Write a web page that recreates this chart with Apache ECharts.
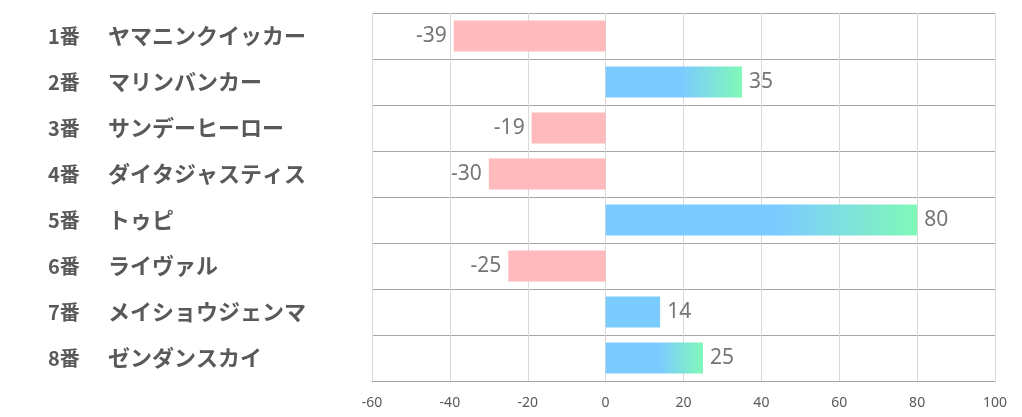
<!DOCTYPE html>
<html>
<head>
<meta charset="utf-8">
<script src="https://cdn.jsdelivr.net/npm/echarts@6/dist/echarts.min.js"></script>
<style>html,body{margin:0;padding:0;background:#fff;}#c{width:1022px;height:417px;}</style>
</head>
<body>
<div id="c"></div>
<script>
const numbers = ['1番','2番','3番','4番','5番','6番','7番','8番'];
const names = ['ヤマニンクイッカー','マリンバンカー','サンデーヒーロー','ダイタジャスティス','トゥピ','ライヴァル','メイショウジェンマ','ゼンダンスカイ'];
const values = [-39, 35, -19, -30, 80, -25, 14, 25];
const xTicks = [-60, -40, -20, 0, 20, 40, 60, 80, 100];

const BLUE = '#7ccbff', GREEN = '#80f9b8', PINK = '#ffbabd';
const categories = numbers.map((n, i) => n + '|' + names[i]);

function barColor(v) {
  if (v < 0) return PINK;
  if (v < 20) return BLUE;
  return new echarts.graphic.LinearGradient(0, 0, 1, 0, [
    {offset: 0, color: BLUE}, {offset: 0.56, color: BLUE}, {offset: 1, color: GREEN}
  ]);
}

const chart = echarts.init(document.getElementById('c'), null, {renderer: 'canvas'});
chart.setOption({
  animation: false,
  grid: {left: 372, right: 27, top: 13, bottom: 36, containLabel: false},
  xAxis: {
    type: 'value', min: xTicks[0], max: xTicks[xTicks.length - 1], interval: 20,
    axisLine: {show: true, lineStyle: {color: '#a6a6a6', width: 1}},
    axisTick: {show: false},
    splitLine: {show: true, lineStyle: {color: '#d9d9d9', width: 1}},
    axisLabel: {color: '#595959', fontSize: 14, fontFamily: 'Noto Sans', margin: 15}
  },
  yAxis: {
    type: 'category', data: categories, inverse: true,
    axisLine: {show: false}, axisTick: {show: false},
    splitLine: {show: true, lineStyle: {color: '#a6a6a6', width: 1}},
    axisLabel: {
      align: 'left', margin: 324,
      formatter: function (v) { const p = v.split('|'); return '{n|' + p[0] + '}{t|' + p[1] + '}'; },
      rich: {
        n: {color: '#595959', fontSize: 20, fontWeight: 'bold', fontFamily: 'Noto Sans CJK JP', width: 60},
        t: {color: '#595959', fontSize: 22, fontWeight: 'bold', fontFamily: 'Noto Sans CJK JP'}
      }
    }
  },
  series: [{
    type: 'bar', barWidth: 31,
    data: values.map(v => ({
      value: v,
      itemStyle: {color: barColor(v)},
      label: {show: true, position: v < 0 ? 'left' : 'right', distance: 7,
              color: '#767676', fontSize: 21, fontFamily: 'Noto Sans'}
    }))
  }]
});
</script>
</body>
</html>
